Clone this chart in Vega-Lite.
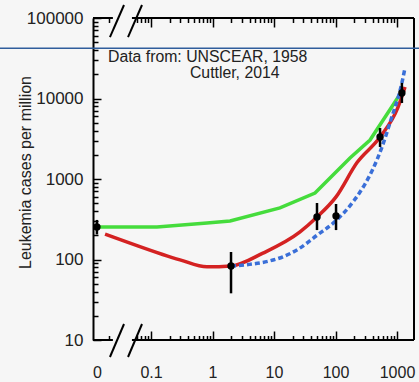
{
  "$schema": "https://vega.github.io/schema/vega-lite/v6.json",
  "width": 321,
  "height": 322,
  "autosize": "none",
  "padding": {"left": 93, "top": 18, "right": 5, "bottom": 42},
  "background": "#f6f6f6",
  "config": {"view": {"stroke": null}, "font": "Liberation Sans"},
  "datasets": {
    "frame": [
      {"dose": 0.0114, "dose2": 0.024, "cases": 10, "cases2": 10},
      {"dose": 0.049, "dose2": 1889, "cases": 10, "cases2": 10},
      {"dose": 0.0114, "dose2": 0.024, "cases": 100000, "cases2": 100000},
      {"dose": 0.049, "dose2": 1889, "cases": 100000, "cases2": 100000},
      {"dose": 1889, "dose2": 1889, "cases": 10, "cases2": 100000},
      {"dose": 0.0215, "dose2": 0.0364, "cases": 6.15, "cases2": 15.8},
      {"dose": 0.0423, "dose2": 0.0714, "cases": 6.15, "cases2": 15.8},
      {"dose": 0.0215, "dose2": 0.0364, "cases": 58000, "cases2": 145000},
      {"dose": 0.0423, "dose2": 0.0714, "cases": 58000, "cases2": 145000}
    ],
    "ref": [{"dose": 0.0002, "dose2": 5000, "cases": 42000}],
    "curves": [
      {"series": "green", "dose": 0.0132, "cases": 254},
      {"series": "green", "dose": 0.125, "cases": 254},
      {"series": "green", "dose": 0.814, "cases": 284},
      {"series": "green", "dose": 1.93, "cases": 301},
      {"series": "green", "dose": 12.5, "cases": 437},
      {"series": "green", "dose": 46.4, "cases": 670},
      {"series": "green", "dose": 172, "cases": 1820},
      {"series": "green", "dose": 364, "cases": 3050},
      {"series": "green", "dose": 861, "cases": 8300},
      {"series": "green", "dose": 1040, "cases": 10400},
      {"series": "red", "dose": 0.0179, "cases": 207},
      {"series": "red", "dose": 0.0456, "cases": 160},
      {"series": "red", "dose": 0.296, "cases": 99},
      {"series": "red", "dose": 0.814, "cases": 81},
      {"series": "red", "dose": 2.0, "cases": 83},
      {"series": "red", "dose": 6.6, "cases": 120},
      {"series": "red", "dose": 26.5, "cases": 220},
      {"series": "red", "dose": 50, "cases": 337},
      {"series": "red", "dose": 102, "cases": 600},
      {"series": "red", "dose": 224, "cases": 1600},
      {"series": "red", "dose": 530, "cases": 3320},
      {"series": "red", "dose": 1040, "cases": 7830},
      {"series": "red", "dose": 1350, "cases": 13900},
      {"series": "blue", "dose": 2.0, "cases": 83},
      {"series": "blue", "dose": 4, "cases": 87},
      {"series": "blue", "dose": 8, "cases": 95},
      {"series": "blue", "dose": 14, "cases": 108},
      {"series": "blue", "dose": 25, "cases": 135},
      {"series": "blue", "dose": 50, "cases": 200},
      {"series": "blue", "dose": 100, "cases": 300},
      {"series": "blue", "dose": 200, "cases": 540},
      {"series": "blue", "dose": 300, "cases": 860},
      {"series": "blue", "dose": 400, "cases": 1300},
      {"series": "blue", "dose": 570, "cases": 2500},
      {"series": "blue", "dose": 800, "cases": 5500},
      {"series": "blue", "dose": 1200, "cases": 15600},
      {"series": "blue", "dose": 1350, "cases": 24000}
    ],
    "obs": [
      {"dose": 0.0132, "cases": 254, "lo": 205, "hi": 310},
      {"dose": 2.0, "cases": 83, "lo": 38, "hi": 124},
      {"dose": 50, "cases": 337, "lo": 232, "hi": 503},
      {"dose": 102, "cases": 347, "lo": 232, "hi": 489},
      {"dose": 530, "cases": 3320, "lo": 2500, "hi": 4300},
      {"dose": 1200, "cases": 11700, "lo": 8800, "hi": 15600}
    ],
    "notes": [
      {"dose": 0.02, "cases": 32800, "label": "Data from: UNSCEAR, 1958"},
      {"dose": 0.43, "cases": 20700, "label": "Cuttler, 2014"}
    ]
  },
  "layer": [
    {
      "data": {"name": "frame"},
      "mark": {"type": "rule", "color": "black", "strokeWidth": 2},
      "encoding": {
        "x": {
          "field": "dose", "type": "quantitative",
          "scale": {"type": "log", "domain": [0.0114, 1889], "nice": false},
          "axis": {
            "orient": "bottom", "title": null, "domain": false, "grid": false,
            "values": [0.0132, 0.1, 1, 10, 100, 1000],
            "labelExpr": "datum.value < 0.015 ? '0' : datum.value + ''",
            "tickSize": -9,
            "tickColor": {"condition": {"test": "datum.value < 0.015", "value": "transparent"}, "value": "black"},
            "tickWidth": 1.5,
            "labelOverlap": false, "labelFlush": false,
            "labelFontSize": 16, "labelColor": "#222", "labelFont": "Liberation Sans",
            "labelPadding": 33
          }
        },
        "x2": {"field": "dose2"},
        "y": {
          "field": "cases", "type": "quantitative",
          "scale": {"type": "log", "domain": [10, 100000], "nice": false},
          "axis": {
            "orient": "left", "grid": false,
            "values": [10, 100, 1000, 10000, 100000],
            "labelExpr": "format(datum.value, 'd')",
            "tickSize": -8,
            "tickWidth": 1.5, "tickColor": "black",
            "domain": true, "domainColor": "black", "domainWidth": 2,
            "labelOverlap": false, "labelFlush": false,
            "labelFontSize": 17, "labelColor": "#222", "labelFont": "Liberation Sans",
            "labelPadding": 18,
            "title": "Leukemia cases per million",
            "titleFont": "Liberation Sans", "titleFontSize": 16, "titleFontWeight": "normal", "titleColor": "#222",
            "titleX": -68, "titleY": 154, "titleAngle": -90, "titleAlign": "center", "titleBaseline": "middle"
          }
        },
        "y2": {"field": "cases2"}
      }
    },
    {
      "data": {"name": "ref"},
      "mark": {"type": "rule", "color": "#2f5d9c", "strokeWidth": 1.5},
      "encoding": {
        "x": {
          "field": "dose", "type": "quantitative",
          "axis": {
            "orient": "top", "title": null, "domain": false, "grid": false, "labels": false,
            "values": [0.1, 1, 10, 100, 1000],
            "tickSize": -9, "tickWidth": 1.5, "tickColor": "black"
          }
        },
        "x2": {"field": "dose2"},
        "y": {"field": "cases", "type": "quantitative", "axis": null}
      }
    },
    {
      "data": {"name": "curves"},
      "transform": [{"filter": "datum.series == 'green'"}],
      "mark": {"type": "line", "color": "#45dc3c", "strokeWidth": 3.5},
      "encoding": {
        "x": {
          "field": "dose", "type": "quantitative",
          "axis": {
            "orient": "bottom", "title": null, "domain": false, "grid": false, "labels": false,
            "values": [0.021, 0.06, 0.07, 0.08, 0.09, 0.2, 0.3, 0.4, 0.5, 0.6, 0.7, 0.8, 0.9, 2, 3, 4, 5, 6, 7, 8, 9, 20, 30, 40, 50, 60, 70, 80, 90, 200, 300, 400, 500, 600, 700, 800, 900],
            "tickSize": -4.5, "tickWidth": 1.5, "tickColor": "black"
          }
        },
        "y": {
          "field": "cases", "type": "quantitative",
          "axis": {
            "orient": "left", "title": null, "domain": false, "grid": false, "labels": false,
            "values": [20, 30, 40, 50, 60, 70, 80, 90, 200, 300, 400, 500, 600, 700, 800, 900, 2000, 3000, 4000, 5000, 6000, 7000, 8000, 9000, 20000, 30000, 40000, 50000, 60000, 70000, 80000, 90000],
            "tickSize": -5, "tickWidth": 1.5, "tickColor": "black"
          }
        }
      }
    },
    {
      "data": {"name": "curves"},
      "transform": [{"filter": "datum.series == 'red'"}],
      "mark": {"type": "line", "color": "#d42222", "strokeWidth": 3.5, "interpolate": "monotone"},
      "encoding": {
        "x": {
          "field": "dose", "type": "quantitative",
          "axis": {
            "orient": "top", "title": null, "domain": false, "grid": false, "labels": false,
            "values": [0.021, 0.06, 0.07, 0.08, 0.09, 0.2, 0.3, 0.4, 0.5, 0.6, 0.7, 0.8, 0.9, 2, 3, 4, 5, 6, 7, 8, 9, 20, 30, 40, 50, 60, 70, 80, 90, 200, 300, 400, 500, 600, 700, 800, 900],
            "tickSize": -4.5, "tickWidth": 1.5, "tickColor": "black"
          }
        },
        "y": {"field": "cases", "type": "quantitative", "axis": null}
      }
    },
    {
      "data": {"name": "curves"},
      "transform": [{"filter": "datum.series == 'blue'"}],
      "mark": {"type": "line", "color": "#3a6fd8", "strokeWidth": 3.5, "strokeDash": [5, 3], "interpolate": "monotone"},
      "encoding": {
        "x": {"field": "dose", "type": "quantitative", "axis": null},
        "y": {"field": "cases", "type": "quantitative", "axis": null}
      }
    },
    {
      "data": {"name": "obs"},
      "mark": {"type": "rule", "color": "black", "strokeWidth": 2.5},
      "encoding": {
        "x": {"field": "dose", "type": "quantitative", "axis": null},
        "y": {"field": "lo", "type": "quantitative", "axis": null},
        "y2": {"field": "hi"}
      }
    },
    {
      "data": {"name": "obs"},
      "mark": {"type": "point", "filled": true, "color": "black", "size": 55, "opacity": 1},
      "encoding": {
        "x": {"field": "dose", "type": "quantitative", "axis": null},
        "y": {"field": "cases", "type": "quantitative", "axis": null}
      }
    },
    {
      "data": {"name": "notes"},
      "mark": {"type": "text", "align": "left", "baseline": "middle", "fontSize": 15.8, "font": "Liberation Sans", "color": "#222"},
      "encoding": {
        "x": {"field": "dose", "type": "quantitative", "axis": null},
        "y": {"field": "cases", "type": "quantitative", "axis": null},
        "text": {"field": "label"}
      }
    }
  ],
  "resolve": {"axis": {"x": "independent", "y": "independent"}}
}
